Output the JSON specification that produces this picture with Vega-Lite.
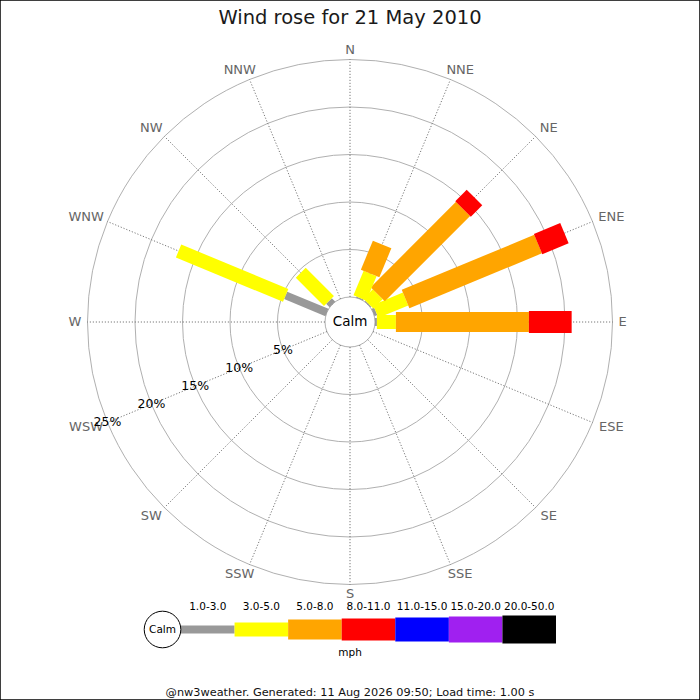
{
  "$schema": "https://vega.github.io/schema/vega-lite/v6.json",
  "width": 700,
  "height": 700,
  "autosize": {"type": "none"},
  "padding": 0,
  "background": "white",
  "config": {"view": {"stroke": "black", "strokeWidth": 1.5}, "font": "DejaVu Sans"},
  "title": {"text": "Wind rose for 21 May 2010", "font": "DejaVu Sans", "fontSize": 19.5, "fontWeight": "normal", "color": "#1a1a1a", "anchor": "middle", "frame": "group", "baseline": "alphabetic", "offset": -24, "dy": 19},
  "datasets": {
    "dirs": [
      {"dir": "N", "angle": 0}, {"dir": "NNE", "angle": 22.5}, {"dir": "NE", "angle": 45}, {"dir": "ENE", "angle": 67.5},
      {"dir": "E", "angle": 90}, {"dir": "ESE", "angle": 112.5}, {"dir": "SE", "angle": 135}, {"dir": "SSE", "angle": 157.5},
      {"dir": "S", "angle": 180}, {"dir": "SSW", "angle": 202.5}, {"dir": "SW", "angle": 225}, {"dir": "WSW", "angle": 247.5},
      {"dir": "W", "angle": 270}, {"dir": "WNW", "angle": 292.5}, {"dir": "NW", "angle": 315}, {"dir": "NNW", "angle": 337.5}
    ],
    "rings": [{"p": 0}, {"p": 5}, {"p": 10}, {"p": 15}, {"p": 20}, {"p": 25}],
    "rose": [
      {"dir": "E", "angle": 90, "speed": "1.0-3.0", "pct": 0.2},
      {"dir": "E", "angle": 90, "speed": "3.0-5.0", "pct": 2.0},
      {"dir": "E", "angle": 90, "speed": "5.0-8.0", "pct": 14.0},
      {"dir": "E", "angle": 90, "speed": "8.0-11.0", "pct": 4.5},
      {"dir": "ENE", "angle": 67.5, "speed": "1.0-3.0", "pct": 0.3},
      {"dir": "ENE", "angle": 67.5, "speed": "3.0-5.0", "pct": 3.4},
      {"dir": "ENE", "angle": 67.5, "speed": "5.0-8.0", "pct": 15.1},
      {"dir": "ENE", "angle": 67.5, "speed": "8.0-11.0", "pct": 3.0},
      {"dir": "NE", "angle": 45, "speed": "1.0-3.0", "pct": 0.1},
      {"dir": "NE", "angle": 45, "speed": "3.0-5.0", "pct": 1.4},
      {"dir": "NE", "angle": 45, "speed": "5.0-8.0", "pct": 12.7},
      {"dir": "NE", "angle": 45, "speed": "8.0-11.0", "pct": 1.7},
      {"dir": "NNE", "angle": 22.5, "speed": "1.0-3.0", "pct": 0.1},
      {"dir": "NNE", "angle": 22.5, "speed": "3.0-5.0", "pct": 2.8},
      {"dir": "NNE", "angle": 22.5, "speed": "5.0-8.0", "pct": 3.3},
      {"dir": "NW", "angle": 315, "speed": "1.0-3.0", "pct": 0.5},
      {"dir": "NW", "angle": 315, "speed": "3.0-5.0", "pct": 4.2},
      {"dir": "WNW", "angle": 292.5, "speed": "1.0-3.0", "pct": 4.7},
      {"dir": "WNW", "angle": 292.5, "speed": "3.0-5.0", "pct": 12.2}
    ],
    "speeds": [
      {"speed": "1.0-3.0", "i": 0}, {"speed": "3.0-5.0", "i": 1}, {"speed": "5.0-8.0", "i": 2},
      {"speed": "8.0-11.0", "i": 3}, {"speed": "11.0-15.0", "i": 4}, {"speed": "15.0-20.0", "i": 5},
      {"speed": "20.0-50.0", "i": 6}
    ]
  },
  "resolve": {"scale": {"x": "independent"}},
  "layer": [
    {
      "data": {"name": "rings"},
      "transform": [{"calculate": "datum.p + 25/9.5", "as": "R"}],
      "mark": {"type": "point", "shape": "circle", "filled": false, "stroke": "#b0b0b0", "strokeWidth": 1, "opacity": 1},
      "encoding": {
        "x": {"datum": 0, "type": "quantitative", "scale": {"domain": [-36.842, 36.842], "nice": false, "zero": false}, "axis": null},
        "y": {"datum": 0, "type": "quantitative", "scale": {"domain": [-39.789, 33.895], "nice": false, "zero": false}, "axis": null},
        "size": {"field": "R", "type": "quantitative", "scale": {"type": "pow", "exponent": 2, "domain": [0, 36.842], "range": [0, 490000]}, "legend": null}
      }
    },
    {
      "data": {"name": "dirs"},
      "transform": [
        {"calculate": "datum.angle*PI/180", "as": "a"},
        {"calculate": "(25/9.5)*sin(datum.a)", "as": "x0"},
        {"calculate": "(25/9.5)*cos(datum.a)", "as": "y0"},
        {"calculate": "(25/9.5+25)*sin(datum.a)", "as": "x1"},
        {"calculate": "(25/9.5+25)*cos(datum.a)", "as": "y1"}
      ],
      "mark": {"type": "rule", "stroke": "#555555", "strokeWidth": 0.8, "strokeDash": [1.2, 1.8]},
      "encoding": {
        "x": {"field": "x0", "type": "quantitative", "scale": {"domain": [-36.842, 36.842], "nice": false, "zero": false}, "axis": null},
        "y": {"field": "y0", "type": "quantitative", "scale": {"domain": [-39.789, 33.895], "nice": false, "zero": false}, "axis": null},
        "x2": {"field": "x1"},
        "y2": {"field": "y1"}
      }
    },
    {
      "data": {"name": "rose"},
      "transform": [
        {"stack": "pct", "groupby": ["dir"], "sort": [{"field": "speed", "order": "ascending"}], "as": ["lo", "hi"]},
        {"calculate": "datum.angle*PI/180", "as": "a"},
        {"calculate": "(datum.lo + 25/9.5)*sin(datum.a)", "as": "x0"},
        {"calculate": "(datum.lo + 25/9.5)*cos(datum.a)", "as": "y0"},
        {"calculate": "(datum.hi + 25/9.5)*sin(datum.a)", "as": "x1"},
        {"calculate": "(datum.hi + 25/9.5)*cos(datum.a)", "as": "y1"}
      ],
      "mark": {"type": "rule", "strokeCap": "butt", "opacity": 1},
      "encoding": {
        "x": {"field": "x0", "type": "quantitative", "scale": {"domain": [-36.842, 36.842], "nice": false, "zero": false}, "axis": null},
        "y": {"field": "y0", "type": "quantitative", "scale": {"domain": [-39.789, 33.895], "nice": false, "zero": false}, "axis": null},
        "x2": {"field": "x1"},
        "y2": {"field": "y1"},
        "color": {"field": "speed", "type": "ordinal", "scale": {"type": "ordinal", "domain": ["1.0-3.0", "3.0-5.0", "5.0-8.0", "8.0-11.0", "11.0-15.0", "15.0-20.0", "20.0-50.0"], "range": ["#999999", "#ffff00", "#ffa500", "#ff0000", "#0000ff", "#a020f0", "#000000"]}, "legend": null},
        "strokeWidth": {"field": "speed", "type": "ordinal", "scale": {"type": "ordinal", "domain": ["1.0-3.0", "3.0-5.0", "5.0-8.0", "8.0-11.0", "11.0-15.0", "15.0-20.0", "20.0-50.0"], "range": [8, 14, 20, 22, 24, 26, 28]}, "legend": null}
      }
    },
    {
      "data": {"values": [{"t": "Calm"}]},
      "mark": {"type": "text", "fontSize": 13.5, "color": "#000000", "align": "center", "baseline": "middle", "font": "DejaVu Sans"},
      "encoding": {
        "x": {"datum": 0, "type": "quantitative", "scale": {"domain": [-36.842, 36.842], "nice": false, "zero": false}, "axis": null},
        "y": {"datum": 0, "type": "quantitative", "scale": {"domain": [-39.789, 33.895], "nice": false, "zero": false}, "axis": null},
        "text": {"field": "t"}
      }
    },
    {
      "data": {"name": "dirs"},
      "transform": [
        {"calculate": "datum.angle*PI/180", "as": "a"},
        {"calculate": "4.6*length(datum.dir) + (indexof(datum.dir,'W') == 0 ? 2.5 : 0)", "as": "hw"},
        {"calculate": "(268*sin(datum.a) + datum.hw*clamp(1.45*sin(datum.a), -1, 1))/9.5", "as": "xl"},
        {"calculate": "(267.7*cos(datum.a) + 4.75*clamp(1.45*cos(datum.a), -1, 1))/9.5", "as": "yl"}
      ],
      "mark": {"type": "text", "fontSize": 13, "color": "#666666", "align": "center", "baseline": "middle", "font": "DejaVu Sans"},
      "encoding": {
        "x": {"field": "xl", "type": "quantitative", "scale": {"domain": [-36.842, 36.842], "nice": false, "zero": false}, "axis": null},
        "y": {"field": "yl", "type": "quantitative", "scale": {"domain": [-39.789, 33.895], "nice": false, "zero": false}, "axis": null},
        "text": {"field": "dir"}
      }
    },
    {
      "data": {"name": "rings"},
      "transform": [
        {"filter": "datum.p > 0"},
        {"calculate": "datum.p + 25/9.5", "as": "R"},
        {"calculate": "datum.R*sin(247.5*PI/180)", "as": "xl"},
        {"calculate": "datum.R*cos(247.5*PI/180)", "as": "yl"},
        {"calculate": "datum.p + '%'", "as": "lab"}
      ],
      "mark": {"type": "text", "fontSize": 12.5, "color": "#000000", "align": "center", "baseline": "middle", "font": "DejaVu Sans"},
      "encoding": {
        "x": {"field": "xl", "type": "quantitative", "scale": {"domain": [-36.842, 36.842], "nice": false, "zero": false}, "axis": null},
        "y": {"field": "yl", "type": "quantitative", "scale": {"domain": [-39.789, 33.895], "nice": false, "zero": false}, "axis": null},
        "text": {"field": "lab"}
      }
    },
    {
      "data": {"name": "speeds"},
      "transform": [{"calculate": "datum.i + 1", "as": "j"}],
      "mark": {"type": "rule", "strokeCap": "butt", "opacity": 1},
      "encoding": {
        "x": {"field": "i", "type": "quantitative", "scale": {"domain": [0, 7], "range": [181, 556], "nice": false, "zero": false}, "axis": null},
        "x2": {"field": "j"},
        "y": {"datum": -32.368, "type": "quantitative", "scale": {"domain": [-39.789, 33.895], "nice": false, "zero": false}, "axis": null},
        "color": {"field": "speed", "type": "ordinal", "scale": {"type": "ordinal", "domain": ["1.0-3.0", "3.0-5.0", "5.0-8.0", "8.0-11.0", "11.0-15.0", "15.0-20.0", "20.0-50.0"], "range": ["#999999", "#ffff00", "#ffa500", "#ff0000", "#0000ff", "#a020f0", "#000000"]}, "legend": null},
        "strokeWidth": {"field": "speed", "type": "ordinal", "scale": {"type": "ordinal", "domain": ["1.0-3.0", "3.0-5.0", "5.0-8.0", "8.0-11.0", "11.0-15.0", "15.0-20.0", "20.0-50.0"], "range": [8, 14, 20, 22, 24, 26, 28]}, "legend": null}
      }
    },
    {
      "data": {"name": "speeds"},
      "transform": [{"calculate": "datum.i + 0.5", "as": "m"}],
      "mark": {"type": "text", "fontSize": 10.5, "color": "#000000", "align": "center", "baseline": "middle", "font": "DejaVu Sans"},
      "encoding": {
        "x": {"field": "m", "type": "quantitative", "scale": {"domain": [0, 7], "range": [181, 556], "nice": false, "zero": false}, "axis": null},
        "y": {"datum": -30.05, "type": "quantitative", "scale": {"domain": [-39.789, 33.895], "nice": false, "zero": false}, "axis": null},
        "text": {"field": "speed"}
      }
    },
    {
      "data": {"values": [{"t": "Calm"}]},
      "mark": {"type": "point", "shape": "circle", "filled": true, "fill": "white", "stroke": "black", "strokeWidth": 1, "opacity": 1, "size": 1340},
      "encoding": {
        "x": {"datum": -0.345, "type": "quantitative", "scale": {"domain": [0, 7], "range": [181, 556], "nice": false, "zero": false}, "axis": null},
        "y": {"datum": -32.368, "type": "quantitative", "scale": {"domain": [-39.789, 33.895], "nice": false, "zero": false}, "axis": null}
      }
    },
    {
      "data": {"values": [{"t": "Calm"}]},
      "mark": {"type": "text", "fontSize": 10.5, "color": "#000000", "align": "center", "baseline": "middle", "font": "DejaVu Sans"},
      "encoding": {
        "x": {"datum": -0.345, "type": "quantitative", "scale": {"domain": [0, 7], "range": [181, 556], "nice": false, "zero": false}, "axis": null},
        "y": {"datum": -32.368, "type": "quantitative", "scale": {"domain": [-39.789, 33.895], "nice": false, "zero": false}, "axis": null},
        "text": {"field": "t"}
      }
    },
    {
      "data": {"values": [{"t": "mph"}]},
      "mark": {"type": "text", "fontSize": 10.5, "color": "#000000", "align": "center", "baseline": "middle", "font": "DejaVu Sans"},
      "encoding": {
        "x": {"datum": 3.155, "type": "quantitative", "scale": {"domain": [0, 7], "range": [181, 556], "nice": false, "zero": false}, "axis": null},
        "y": {"datum": -34.87, "type": "quantitative", "scale": {"domain": [-39.789, 33.895], "nice": false, "zero": false}, "axis": null},
        "text": {"field": "t"}
      }
    },
    {
      "data": {"values": [{"t": "@nw3weather. Generated: 11 Aug 2026 09:50; Load time: 1.00 s"}]},
      "mark": {"type": "text", "fontSize": 11.3, "color": "#111111", "align": "center", "baseline": "middle", "font": "DejaVu Sans"},
      "encoding": {
        "x": {"datum": 0, "type": "quantitative", "scale": {"domain": [-36.842, 36.842], "nice": false, "zero": false}, "axis": null},
        "y": {"datum": -39.02, "type": "quantitative", "scale": {"domain": [-39.789, 33.895], "nice": false, "zero": false}, "axis": null},
        "text": {"field": "t"}
      }
    }
  ]
}
